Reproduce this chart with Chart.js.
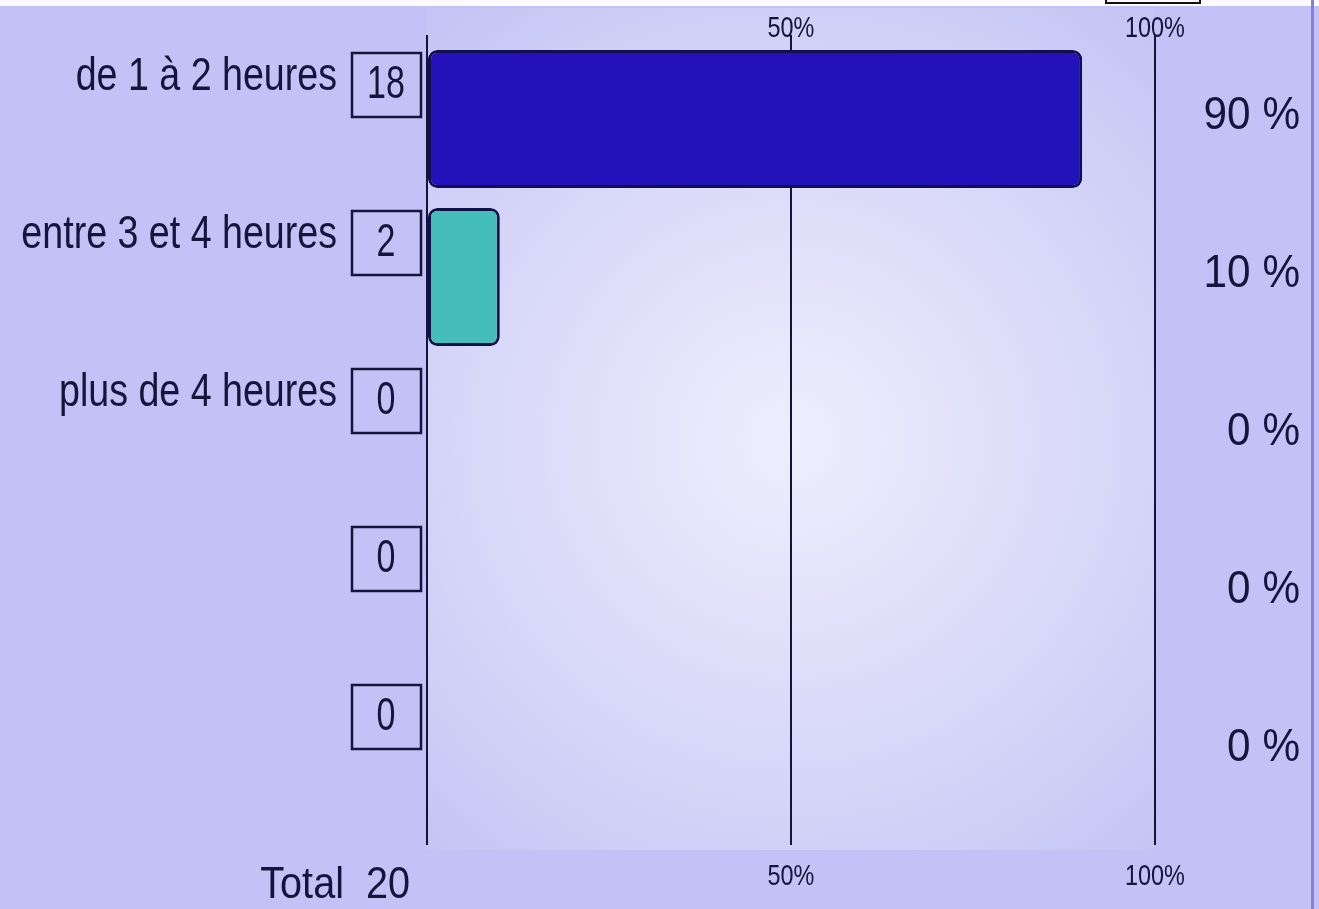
<!DOCTYPE html>
<html>
<head>
<meta charset="utf-8">
<script src="https://cdn.jsdelivr.net/npm/chart.js@4"></script>
<style>
  html, body { margin: 0; padding: 0; background: #c2c2f6; overflow: hidden; }
  canvas { display: block; }
</style>
</head>
<body>
<canvas id="grafico" width="1319" height="909"></canvas>
<script>
// donnees
const categories = ['de 1 à 2 heures', 'entre 3 et 4 heures', 'plus de 4 heures', '', ''];
const effectifs = [18, 2, 0, 0, 0];
const pourcentages = [90, 10, 0, 0, 0];
const couleurs = ['#2312b9', '#45bdbb', '#2312b9', '#2312b9', '#2312b9'];
const graduations = [50, 100];
const total = 20;

const encre = '#15153c';

// texte etroit : police normale comprimee horizontalement
function texte(ctx, str, x, y, taille, align, echelle) {
  ctx.save();
  ctx.font = taille + 'px "Liberation Sans", Arial, sans-serif';
  ctx.textBaseline = 'middle';
  ctx.textAlign = align;
  ctx.fillStyle = encre;
  ctx.translate(x, y);
  ctx.scale(echelle, 1);
  ctx.fillText(str, 0, 0);
  ctx.restore();
}

const fond = {
  id: 'fond',
  beforeDraw(chart) {
    const ctx = chart.ctx;
    const a = chart.chartArea;
    ctx.save();
    ctx.fillStyle = '#c2c2f6';
    ctx.fillRect(0, 0, chart.width, chart.height);
    const cx = (a.left + a.right) / 2, cy = 440;
    const g = ctx.createRadialGradient(cx, cy, 0, cx, cy, 560);
    g.addColorStop(0, '#efeefd');
    g.addColorStop(0.6, '#d6d6f8');
    g.addColorStop(1, '#c4c4f5');
    ctx.fillStyle = g;
    ctx.fillRect(a.left, 8, a.right - a.left, 842);
    // bande blanche du haut
    ctx.fillStyle = '#fbfbff';
    ctx.fillRect(0, 0, chart.width, 6);
    ctx.strokeStyle = '#111';
    ctx.lineWidth = 2;
    ctx.strokeRect(1106, -4, 94, 7);
    // bord droit
    ctx.fillStyle = '#8080de';
    ctx.fillRect(1311, 0, 3, chart.height);
    ctx.restore();
  }
};

const etiquettes = {
  id: 'etiquettes',
  afterDatasetsDraw(chart) {
    const ctx = chart.ctx;
    const x = chart.scales.x;
    const y = chart.scales.y;
    categories.forEach((c, i) => {
      const yc = y.getPixelForValue(i);
      if (c) texte(ctx, c, 337, yc - 42, 47, 'right', 0.8);
      // boite de l'effectif
      ctx.save();
      ctx.strokeStyle = '#15153c';
      ctx.lineWidth = 2.5;
      ctx.strokeRect(352, yc - 34 - 32, 69, 64);
      ctx.restore();
      texte(ctx, String(effectifs[i]), 386, yc - 34, 46, 'center', 0.74);
      texte(ctx, pourcentages[i] + ' %', 1300, yc - 3, 47, 'right', 0.9);
    });
    graduations.forEach(v => {
      const px = x.getPixelForValue(v);
      texte(ctx, v + '%', px, 29, 30, 'center', 0.78);
      texte(ctx, v + '%', px, 877, 30, 'center', 0.78);
    });
    texte(ctx, 'Total  ' + total, 410, 886, 45, 'right', 0.88);
  }
};

const ctx = document.getElementById('grafico').getContext('2d');
const grafico = new Chart(ctx, {
  type: 'bar',
  data: {
    labels: categories,
    datasets: [{
      data: pourcentages,
      backgroundColor: couleurs,
      borderColor: '#10104a',
      borderWidth: 3,
      borderRadius: 9,
      borderSkipped: false,
      barPercentage: 0.873,
      categoryPercentage: 1
    }]
  },
  options: {
    indexAxis: 'y',
    responsive: false,
    animation: false,
    layout: {
      padding: { left: 427, right: 164, top: 35, bottom: 64 }
    },
    plugins: {
      legend: { display: false },
      tooltip: { enabled: false }
    },
    scales: {
      x: {
        position: 'bottom',
        min: 0,
        max: 100,
        ticks: { display: false, stepSize: 50 },
        grid: { color: '#14143a', lineWidth: 2, tickLength: 15 },
        border: { display: false }
      },
      x2: {
        position: 'top',
        min: 0,
        max: 100,
        ticks: { display: false, stepSize: 50 },
        grid: { color: '#14143a', lineWidth: 2, tickLength: 5 },
        border: { display: false }
      },
      y: {
        display: false
      }
    }
  },
  plugins: [fond, etiquettes]
});
</script>
</body>
</html>
